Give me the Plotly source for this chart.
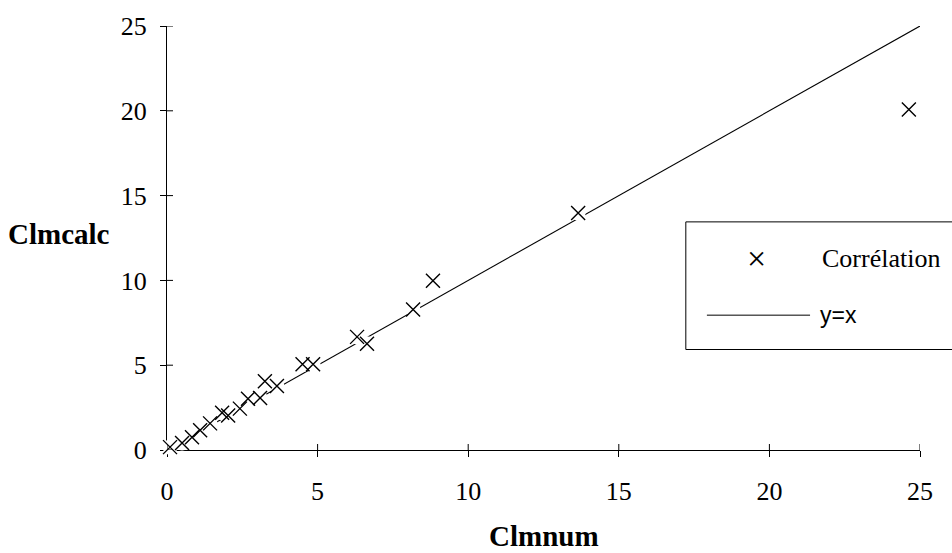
import plotly.graph_objects as go

# Numerical vs. calculated Clm values
clm_num = [0.1, 0.5, 0.83, 1.1, 1.43, 1.83, 2.03, 2.42, 2.69, 3.09, 3.25, 3.65,
           4.5, 4.85, 6.31, 6.64, 8.17, 8.83, 13.65, 24.63]
clm_calc = [0.17, 0.41, 0.75, 1.16, 1.57, 2.2, 2.03, 2.44, 3.02, 3.07, 4.06, 3.77,
            5.05, 5.05, 6.67, 6.26, 8.29, 9.98, 13.98, 20.07]

# Reference line y = x
ref_x = [0, 25]
ref_y = [0, 25]

tick_vals = [0, 5, 10, 15, 20, 25]
tick_text = ["0", "5", "10", "15", "20", "25"]

SERIF = "Liberation Serif, Times New Roman, serif"
SANS = "Liberation Sans, Arial, sans-serif"
TICK_LEN = 6

fig = go.Figure()

fig.add_trace(go.Scatter(
    x=ref_x, y=ref_y, mode="lines",
    line=dict(color="black", width=1.1),
    cliponaxis=False, showlegend=False, hoverinfo="skip",
))
# white halo behind each cross, breaking the line around the markers
fig.add_trace(go.Scatter(
    x=clm_num, y=clm_calc, mode="markers",
    marker=dict(symbol="circle", size=15, color="white", line=dict(width=0)),
    cliponaxis=False, showlegend=False, hoverinfo="skip",
))
fig.add_trace(go.Scatter(
    x=clm_num, y=clm_calc, mode="markers",
    marker=dict(symbol="x-thin", size=14, color="black",
                line=dict(color="black", width=1.4)),
    cliponaxis=False, showlegend=False,
))

axis_common = dict(
    range=[0, 25], tickvals=tick_vals, ticktext=tick_text,
    showgrid=False, zeroline=False, ticklen=TICK_LEN, tickwidth=1, tickcolor="black",
    tickfont=dict(family=SERIF, size=26, color="black"),
    showline=True, linecolor="black", linewidth=1,
    ticks="outside", layer="below traces",
)

fig.update_layout(
    width=952, height=553,
    margin=dict(l=167, r=32, t=19, b=103),
    paper_bgcolor="white", plot_bgcolor="white",
    showlegend=False,
    xaxis=dict(**axis_common, ticklabelstandoff=12),
    yaxis=dict(**axis_common, ticklabelstandoff=8),
)

# inner half of each tick, so the ticks cross the axis lines
for v in tick_vals:
    fig.add_shape(type="line", xref="x", x0=v, x1=v,
                  yref="y", ysizemode="pixel", yanchor=0, y0=0, y1=TICK_LEN,
                  line=dict(color="black", width=1))
    fig.add_shape(type="line", yref="y", y0=v, y1=v,
                  xref="x", xsizemode="pixel", xanchor=0, x0=0, x1=TICK_LEN,
                  line=dict(color="black", width=1))

# Axis titles
fig.add_annotation(text="<b>Clmnum</b>", xref="paper", yref="paper",
                   x=0.5, y=-0.202, xanchor="center", yanchor="middle",
                   showarrow=False, font=dict(family=SERIF, size=29, color="black"))
fig.add_annotation(text="<b>Clmcalc</b>", xref="paper", yref="paper",
                   x=-0.214, y=0.51, xanchor="left", yanchor="middle",
                   showarrow=False, font=dict(family=SERIF, size=29, color="black"))

# Legend box
fig.add_shape(type="rect", xref="paper", yref="paper",
              x0=0.689, x1=1.2, y0=0.237, y1=0.538,
              line=dict(color="black", width=1), fillcolor="white", layer="above")
fig.add_annotation(text="×", xref="paper", yref="paper", x=0.7835, y=0.452,
                   xanchor="center", yanchor="middle", showarrow=False,
                   font=dict(family=SERIF, size=34, color="black"))
fig.add_annotation(text="Corrélation", xref="paper", yref="paper", x=0.867, y=0.452,
                   xanchor="left", yanchor="middle", showarrow=False,
                   font=dict(family=SERIF, size=26, color="black"))
fig.add_shape(type="line", xref="paper", yref="paper",
              x0=0.717, x1=0.854, y0=0.318, y1=0.318,
              line=dict(color="black", width=1), layer="above")
fig.add_annotation(text="y=x", xref="paper", yref="paper", x=0.8645, y=0.318,
                   xanchor="left", yanchor="middle", showarrow=False,
                   font=dict(family=SANS, size=23, color="black"))

fig.write_html("out.html")
